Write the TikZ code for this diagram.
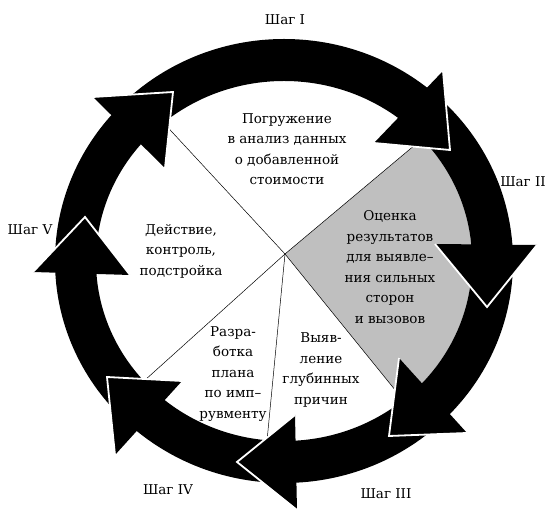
\documentclass[tikz,border=0pt]{standalone}
\usepackage{fontspec}
\setmainfont{DejaVu Serif}
\begin{document}
\begin{tikzpicture}[x=1pt,y=1pt]
\tikzset{steplabel/.style = {font=\fontsize{13.5}{20.5}\selectfont}}
\tikzset{sectortext/.style = {align=center,inner sep=0pt,font=\fontsize{13.5}{20.5}\selectfont}}
\tikzset{headedge/.style = {draw=white,line width=1.8pt,miter limit=20}}
\useasboundingbox (0,0) rectangle (555,519);
\coordinate (O) at (284,258);
\coordinate (P) at (285,265);
% grey sector and dividing lines
\begin{scope}
\clip (O) ellipse [x radius=188,y radius=180];
\fill[black!25] (P) -- +(40:300) -- +(-5:300) -- +(-51:300) -- cycle;
\foreach \a in {132.8,40,-51,-95.5,-138}
  \draw[line width=0.5pt] (P) -- +(\a:300);
\end{scope}
% ring and arrow heads
\fill[even odd rule] (O) ellipse [x radius=229,y radius=222] (O) ellipse [x radius=188,y radius=180];
\foreach \ax/\ay/\tx/\ty/\bx/\by in {93/422/173/427/165/351, 443/448/450/369/374/376,
  435/275/487/212/537/274, 399/161/389/83/467/86, 295/104/237/57/297/9,
  182/138/107/142/115/64, 130/244/85/302/33/247}
{
  \fill (\ax,\ay) -- (\tx,\ty) -- (\bx,\by) -- cycle;
  \draw[headedge] (\ax,\ay) -- (\tx,\ty) -- (\bx,\by);
}
\node[steplabel] (s1) at (285,499) {Шаг I};
\node[steplabel] (s2) at (523,337) {Шаг II};
\node[steplabel] (s3) at (386,25) {Шаг III};
\node[steplabel] (s4) at (168,29) {Шаг IV};
\node[steplabel] (s5) at (30,289) {Шаг V};
\node[sectortext] (immerse) at (287,370) {Погружение\\в анализ данных\\о добавленной\\стоимости};
\node[sectortext] (assess) at (390,252) {Оценка\\результатов\\для выявле–\\ния сильных\\сторон\\и вызовов};
\node[sectortext] (act) at (181,268) {Действие,\\контроль,\\подстройка};
\node[sectortext] (plan) at (233,145) {Разра-\\ботка\\плана\\по имп–\\рувменту};
\node[sectortext] (causes) at (321,149) {Выяв-\\ление\\глубинных\\причин};
\end{tikzpicture}
\end{document}
